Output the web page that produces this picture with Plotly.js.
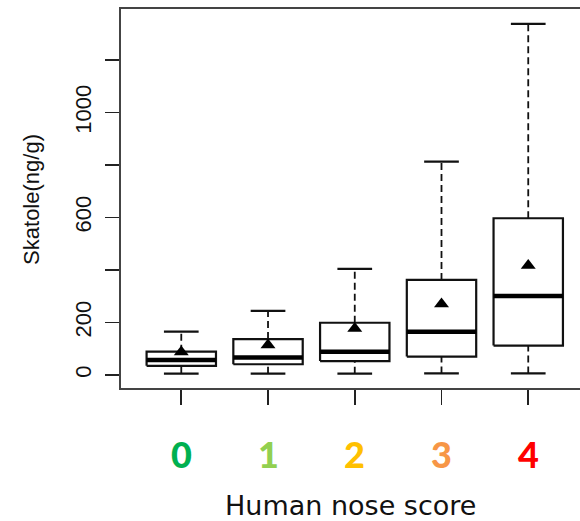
<!DOCTYPE html>
<html><head><meta charset="utf-8">
<script src="https://cdn.plot.ly/plotly-3.0.1.min.js"></script>
<style>html,body{margin:0;padding:0;overflow:hidden;background:#fff}#chart{width:600px;height:521px}</style>
</head><body><div id="chart"></div>
<script>
// Human nose score categories
const scores = [0, 1, 2, 3, 4];
const scoreLabels = ['0', '1', '2', '3', '4'];
const scoreColors = ['#00B050', '#92D050', '#FFC000', '#F79646', '#FF0000'];
// Skatole (ng/g) box statistics per score
const lowerWhisker = [5, 5, 5, 6, 6];
const q1 = [35, 41, 53, 70, 112];
const median = [57, 67, 89, 165, 301];
const q3 = [89, 137, 199, 362, 597];
const upperWhisker = [165, 244, 404, 813, 1337];
const means = [88, 114, 177, 270, 417];
// y axis ticks
const yTickValues = [0, 200, 400, 600, 800, 1000, 1200];
const yTickLabels = ['0', '200', '', '600', '', '1000', ''];

const boxHalf = 0.4, capHalf = 0.2;
const boxX = [], boxY = [], medX = [], medY = [], whX = [], whY = [], capX = [], capY = [];
scores.forEach((s, i) => {
  boxX.push(s - boxHalf, s + boxHalf, s + boxHalf, s - boxHalf, s - boxHalf, null);
  boxY.push(q1[i], q1[i], q3[i], q3[i], q1[i], null);
  medX.push(s - boxHalf, s + boxHalf, null);
  medY.push(median[i], median[i], null);
  whX.push(s, s, null, s, s, null);
  whY.push(q3[i], upperWhisker[i], null, lowerWhisker[i], q1[i], null);
  capX.push(s - capHalf, s + capHalf, null, s - capHalf, s + capHalf, null);
  capY.push(upperWhisker[i], upperWhisker[i], null, lowerWhisker[i], lowerWhisker[i], null);
});

const traces = [
  {type: 'scatter', mode: 'lines', x: whX, y: whY, line: {color: '#111', width: 1.8, dash: '7px,4px'}, hoverinfo: 'skip'},
  {type: 'scatter', mode: 'lines', x: capX, y: capY, line: {color: '#111', width: 2.2}, hoverinfo: 'skip'},
  {type: 'scatter', mode: 'lines', x: boxX, y: boxY, fill: 'toself', fillcolor: '#ffffff', line: {color: '#111', width: 2.2}, hoverinfo: 'skip'},
  {type: 'scatter', mode: 'lines', x: medX, y: medY, line: {color: '#000', width: 4.5}, hoverinfo: 'skip'},
  {type: 'scatter', mode: 'markers', x: scores, y: means, marker: {symbol: 'triangle-up', size: 13, color: '#000'}, hoverinfo: 'skip'}
];

const annotations = scores.map((s, i) => ({
  x: s, xref: 'x', y: -0.175, yref: 'paper', yanchor: 'middle', xanchor: 'center',
  text: scoreLabels[i], showarrow: false,
  font: {family: 'Lato, "Open Sans", sans-serif', size: 36, weight: 900, color: scoreColors[i]}
}));
annotations.push({
  x: 0.489, xref: 'paper', y: -0.311, yref: 'paper', xanchor: 'center', yanchor: 'middle',
  text: 'Human nose score', showarrow: false,
  font: {family: '"DejaVu Sans", sans-serif', size: 27, color: '#111'}
});
annotations.push({
  x: -0.19, xref: 'paper', y: 0.4987, yref: 'paper', xanchor: 'center', yanchor: 'middle',
  text: 'Skatole(ng/g)', textangle: -90, showarrow: false,
  font: {family: '"Liberation Sans", Arial, sans-serif', size: 22, color: '#111'}
});

const layout = {
  width: 600, height: 521,
  margin: {l: 121, r: 10, t: 9, b: 133},
  paper_bgcolor: '#fff', plot_bgcolor: '#fff',
  showlegend: false,
  xaxis: {
    range: [-0.695, 4.712], tickvals: scores, ticktext: scores.map(() => ''),
    showgrid: false, zeroline: false, showline: true, mirror: true,
    linecolor: '#444', linewidth: 2,
    ticks: 'outside', ticklen: 15, tickwidth: 1.6, tickcolor: '#222'
  },
  yaxis: {
    range: [-49.5, 1394], tickvals: yTickValues, ticktext: yTickLabels,
    showgrid: false, zeroline: false, showline: true, mirror: true,
    linecolor: '#444', linewidth: 2,
    ticks: 'outside', ticklen: 14, tickwidth: 1.6, tickcolor: '#222',
    tickangle: -90, ticklabelstandoff: 5,
    tickfont: {family: '"Liberation Sans", Arial, sans-serif', size: 22, color: '#111'}
  },
  annotations: annotations
};

Plotly.newPlot('chart', traces, layout, {displayModeBar: false, staticPlot: true});
</script>
</body></html>
